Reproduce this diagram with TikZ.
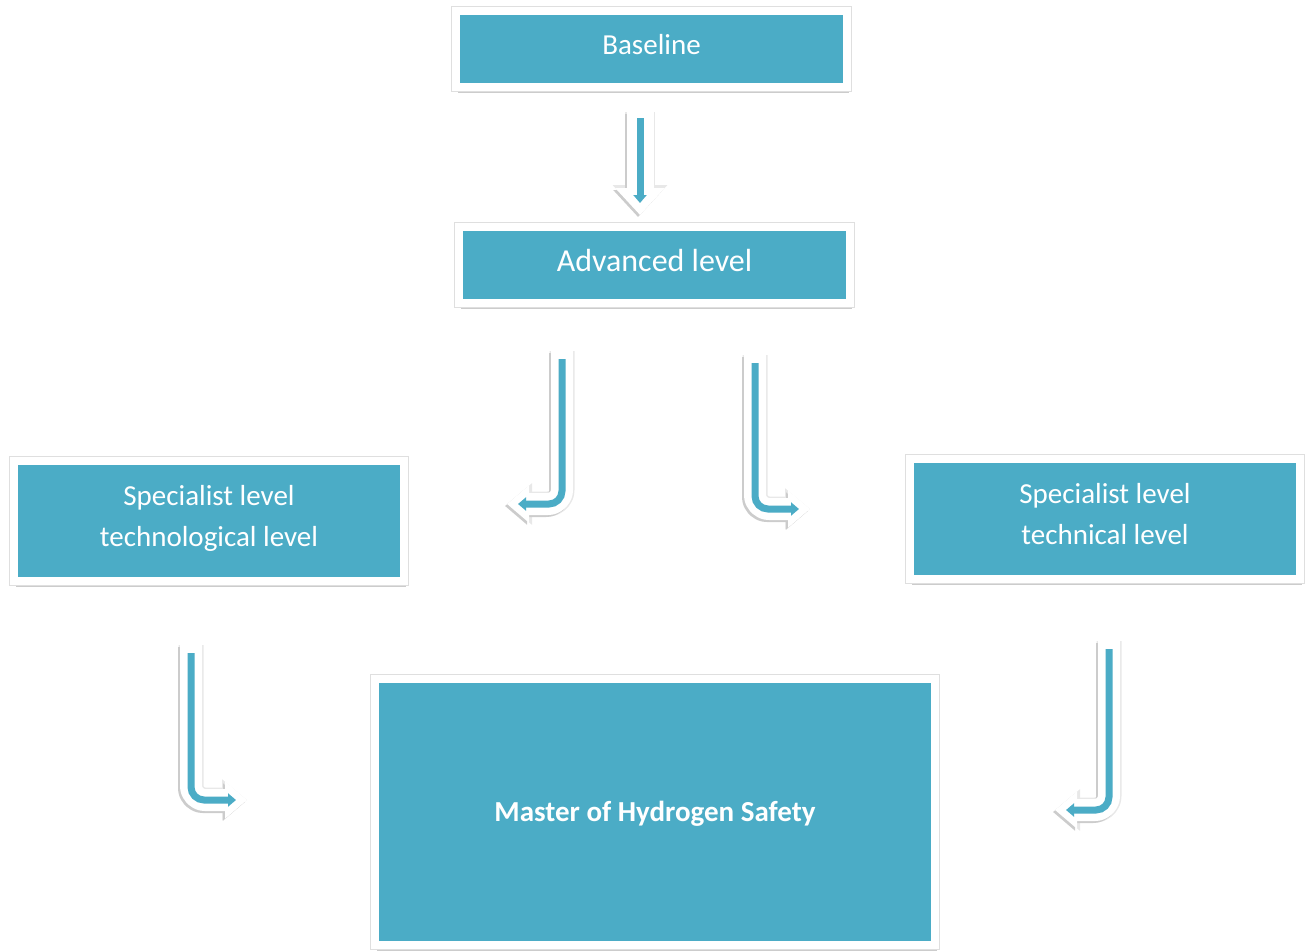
\documentclass[tikz,border=0pt]{standalone}
\usepackage{fontspec}
\setmainfont{Carlito}
\usetikzlibrary{arrows.meta, positioning, shadows}
\definecolor{boxblue}{HTML}{4BACC6}

\tikzset{
  box/.style={fill=boxblue, text=white, align=center, inner sep=0pt,
    draw=white, line width=8pt,
    drop shadow={shadow xshift=1.5pt, shadow yshift=-5.5pt, fill=gray!80, opacity=0.5},
    preaction={draw=gray!25, line width=10pt},
    font=\fontsize{29}{41}\selectfont, text depth=10pt},
  % white outline of the block arrows
  shaft/.style={white, line width=22pt, line join=round, rounded corners=14pt,
    -{Triangle[length=22pt,width=36pt]}},
  glow/.style={shaft, gray!18, line width=25pt, -{Triangle[length=25pt,width=40pt]}},
  shade/.style={shaft, gray!40, transform canvas={xshift=-2pt,yshift=-2pt}},
  core/.style={boxblue, line width=7pt, rounded corners=13pt,
    -{Triangle[length=8pt,width=13pt]}, shorten <=8pt, shorten >=11pt},
  big/.style={line width=27pt, -{Triangle[length=27pt,width=48pt]}},
  bigglow/.style={line width=30pt, -{Triangle[length=30pt,width=53pt]}},
}

\begin{document}
\begin{tikzpicture}[x=1pt,y=-1pt]
  \useasboundingbox (0,0) rectangle (1316,951);

  % levels
  \node[box, minimum width=391, minimum height=76] (base) at (651.5,49) {Baseline};
  \node[box, minimum width=391, minimum height=76, font=\fontsize{32}{40}\selectfont]
    (adv) at (654.5,265) {Advanced level};
  \node[box, minimum width=390, minimum height=120] (spectech) at (209,521)
    {Specialist level\\technological level};
  \node[box, minimum width=390, minimum height=120] (specmech) at (1105,519)
    {Specialist level\\technical level};
  \node[box, minimum width=560, minimum height=266, text depth=2pt,
    font=\bfseries\fontsize{29}{40}\selectfont]
    (master) at (655,812) {Master of Hydrogen Safety};

  % arrow ends
  \coordinate (a1s) at (640,112);  \coordinate (a1e) at (640,215);
  \coordinate (a2s) at (562,351);  \coordinate (a2c) at (562,504);  \coordinate (a2e) at (507,504);
  \coordinate (a3s) at (755,355);  \coordinate (a3c) at (755,509);  \coordinate (a3e) at (810,509);
  \coordinate (a4s) at (191,645);  \coordinate (a4c) at (191,800);  \coordinate (a4e) at (247,800);
  \coordinate (a5s) at (1109,641); \coordinate (a5c) at (1109,810); \coordinate (a5e) at (1055,810);

  % baseline -> advanced
  \draw[glow, bigglow] (a1s) -- (a1e);
  \draw[shade, big] (a1s) -- (a1e);
  \draw[shaft, big] (a1s) -- (a1e);
  \draw[core, shorten <=6pt, shorten >=12pt] (a1s) -- (a1e);

  % bent arrows
  \foreach \a in {a2,a3,a4,a5} {
    \draw[glow] (\a s) -- (\a c) -- (\a e);
    \draw[shade] (\a s) -- (\a c) -- (\a e);
    \draw[shaft] (\a s) -- (\a c) -- (\a e);
    \draw[core] (\a s) -- (\a c) -- (\a e);
  }
\end{tikzpicture}
\end{document}
